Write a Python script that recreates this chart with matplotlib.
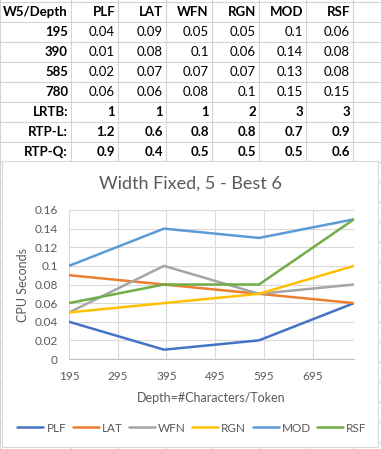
import numpy as np
import matplotlib
matplotlib.use("Agg")
import matplotlib.pyplot as plt
from matplotlib.ticker import FuncFormatter

plt.rcParams['font.family'] = ['Lato', 'DejaVu Sans']

# data
depths = [195, 390, 585, 780]
methods = ['PLF', 'LAT', 'WFN', 'RGN', 'MOD', 'RSF']
plf = [0.04, 0.01, 0.02, 0.06]
lat = [0.09, 0.08, 0.07, 0.06]
wfn = [0.05, 0.1, 0.07, 0.08]
rgn = [0.05, 0.06, 0.07, 0.1]
mod = [0.1, 0.14, 0.13, 0.15]
rsf = [0.06, 0.08, 0.08, 0.15]
lrtb = ['1', '1', '1', '2', '3', '3']
rtp_l = ['1.2', '0.6', '0.8', '0.8', '0.7', '0.9']
rtp_q = ['0.9', '0.4', '0.5', '0.5', '0.5', '0.6']
x_ticks = [195, 295, 395, 495, 595, 695]

series = [plf, lat, wfn, rgn, mod, rsf]
colors = ['#4472C4', '#ED7D31', '#A5A5A5', '#FFC000', '#5B9BD5', '#70AD47']

W, H = 381, 449
fig = plt.figure(figsize=(W / 100, H / 100), dpi=100)

# sheet layer, pixel coordinates
sheet = fig.add_axes([0, 0, 1, 1])
sheet.set_xlim(0, W)
sheet.set_ylim(H, 0)
sheet.axis('off')

grid_c = '#D4D4D4'
row_h = 20
col_edges = [0, 71, 118, 166, 212, 259, 306, 353]
for k in range(0, 23):
    y = 2 + row_h * k
    sheet.plot([0, W], [y, y], color=grid_c, lw=0.8)
for x in col_edges:
    sheet.plot([x, x], [0, H], color=grid_c, lw=0.8)

def fmt(v):
    return f'{v:g}'

rows = [('W5/Depth', methods, True)]
for i, d in enumerate(depths):
    rows.append((str(d), [fmt(s[i]) for s in series], False))
rows.append(('LRTB:', lrtb, True))
rows.append(('RTP-L:', rtp_l, True))
rows.append(('RTP-Q:', rtp_q, True))

for r, (label, vals, bold) in enumerate(rows):
    y = 12.5 + row_h * r
    sheet.text(col_edges[1] - 3, y, label, ha='right', va='center',
               fontsize=9.5, fontweight='bold', color='black')
    for c, v in enumerate(vals):
        sheet.text(col_edges[c + 2] - 3, y, v, ha='right', va='center',
                   fontsize=9.5, fontweight='bold' if bold else 'normal',
                   color='black')

# chart box
sheet.add_patch(plt.Rectangle((2, 161), 376, 286, facecolor='white',
                              edgecolor='#D9D9D9', lw=0.8, zorder=3))
sheet.text(190, 184, 'Width Fixed, 5 - Best 6', ha='center', va='center',
           fontsize=13, color='#595959', zorder=4)

# plot area
left, right, top, bottom = 69, 354, 210, 359
ax = fig.add_axes([left / W, 1 - bottom / H, (right - left) / W, (bottom - top) / H])
ax.set_zorder(5)
for name, vals, c in zip(methods, series, colors):
    ax.plot(depths, vals, color=c, lw=1.8, label=name, solid_capstyle='round')

ax.set_xlim(195, 780)
ax.set_ylim(0, 0.16)
ax.set_xticks(x_ticks)
ax.set_yticks(np.arange(0, 0.161, 0.02))
ax.yaxis.set_major_formatter(FuncFormatter(lambda v, p: f'{round(v, 2):g}'))
ax.grid(True, color='#D9D9D9', lw=0.8)
ax.set_axisbelow(True)
for s in ['top', 'right', 'left']:
    ax.spines[s].set_visible(False)
ax.spines['bottom'].set_color('#BFBFBF')
ax.tick_params(length=0, labelsize=8.5, colors='#595959')
ax.tick_params(axis='x', pad=9)
ax.tick_params(axis='y', pad=8)
ax.set_xlabel('Depth=#Characters/Token', fontsize=9, color='#595959', labelpad=7)
ax.set_ylabel('CPU Seconds', fontsize=9, color='#595959', labelpad=4)

fig.legend(loc='center', bbox_to_anchor=(192 / W, 1 - 428 / H), ncol=6,
           frameon=False, fontsize=8.5, handlelength=2.2, handletextpad=0.25,
           columnspacing=0.55, labelcolor='#595959')

fig.savefig('out.png', dpi=100)
